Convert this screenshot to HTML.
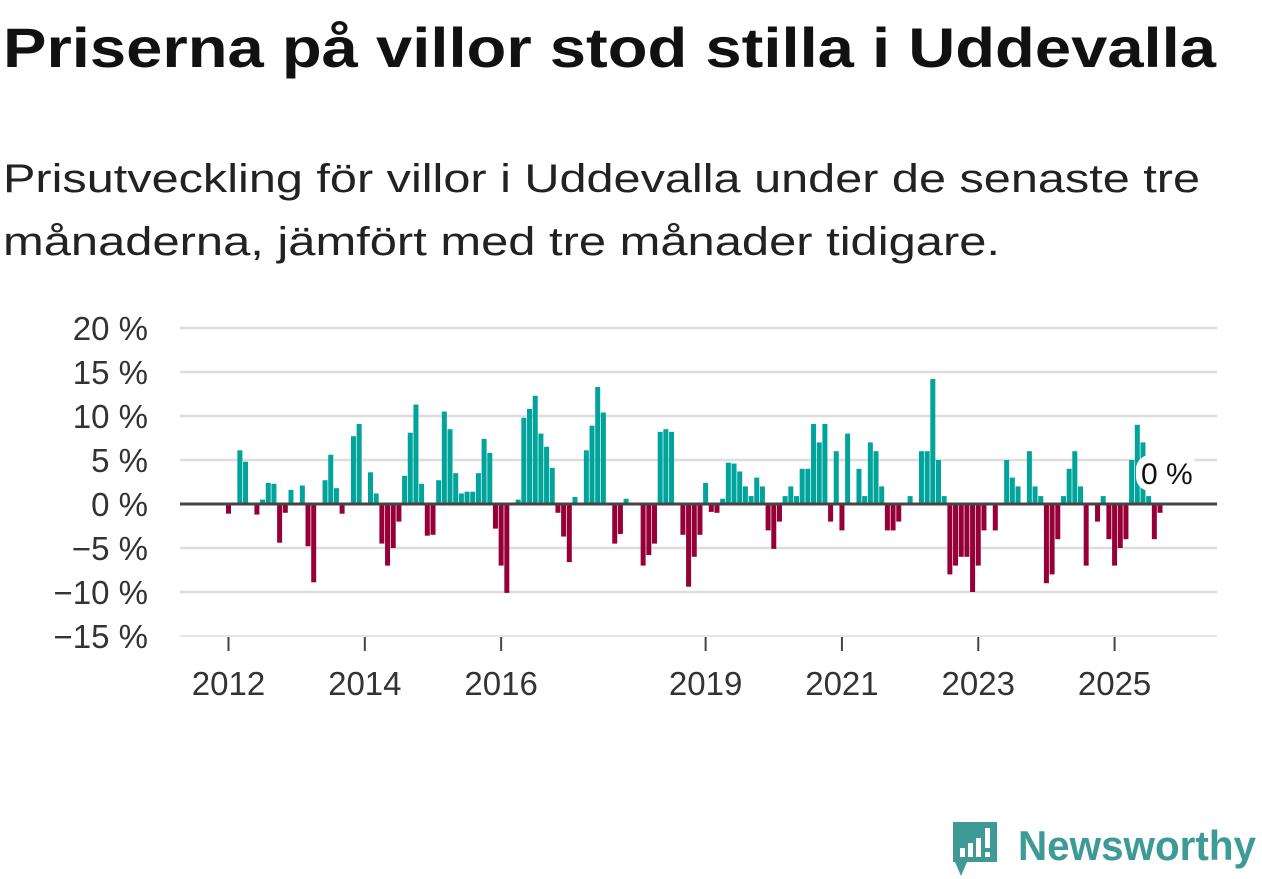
<!DOCTYPE html>
<html><head><meta charset="utf-8"><style>
html,body{margin:0;padding:0;background:#fff;}
svg{display:block;font-family:"Liberation Sans",sans-serif;}
</style></head><body>
<svg id="chart" width="1262" height="879" viewBox="0 0 1262 879" xmlns="http://www.w3.org/2000/svg">
<text x="3" y="67" font-size="56" font-weight="bold" fill="#111" textLength="1213" lengthAdjust="spacingAndGlyphs">Priserna på villor stod stilla i Uddevalla</text>
<text x="3" y="192" font-size="40" fill="#222" textLength="1197" lengthAdjust="spacingAndGlyphs">Prisutveckling för villor i Uddevalla under de senaste tre</text>
<text x="3" y="255" font-size="40" fill="#222" textLength="997" lengthAdjust="spacingAndGlyphs">månaderna, jämfört med tre månader tidigare.</text>
<g id="grid"></g>
<g id="yaxis"></g>
<g id="xaxis"></g>
<g id="bars"></g>
<g id="zero"></g>
<g>
<rect x="1136" y="455" width="62" height="36" rx="14" fill="#fff"/>
<text x="1141" y="484" font-size="30" fill="#111">0 %</text>
</g>
<g>
<path d="M953 822 h44 v40 h-30 l-6 14 l-6 -14 h-2 z" fill="#3d9a96"/>
<rect x="960" y="848" width="5" height="9" fill="#fff"/>
<rect x="968" y="843" width="5" height="14" fill="#fff"/>
<rect x="976" y="838" width="5" height="19" fill="#fff"/>
<rect x="985" y="828" width="5" height="20" fill="#fff"/>
<rect x="985" y="852" width="5" height="5" fill="#fff"/>
<text x="1018" y="860" font-size="42" font-weight="bold" fill="#3d9a96" textLength="238" lengthAdjust="spacingAndGlyphs">Newsworthy</text>
</g>
</svg>
<script>
const startYear = 2012;
const values = [
-1.1,0,6.1,4.8,0,-1.2,0.5,2.4,2.3,-4.4,-1.0,1.6,
0,2.1,-4.8,-8.9,0,2.7,5.6,1.8,-1.1,0,7.7,9.1,
0,3.6,1.2,-4.5,-7.0,-5.0,-2.0,3.2,8.1,11.3,2.3,-3.6,
-3.5,2.7,10.5,8.5,3.5,1.2,1.4,1.4,3.5,7.4,5.8,-2.8,
-7.0,-10.1,0,0.5,9.8,10.8,12.3,8.0,6.5,4.1,-1.0,-3.7,
-6.6,0.8,0,6.1,8.9,13.3,10.4,0,-4.5,-3.4,0.6,0,
0,-7.0,-5.8,-4.5,8.2,8.5,8.2,0,-3.5,-9.4,-6.0,-3.5,
2.4,-0.9,-1.0,0.6,4.7,4.6,3.7,2.0,0.9,3.0,2.0,-3.0,
-5.1,-2.0,0.9,2.0,0.9,4.0,4.0,9.1,7.0,9.1,-2.0,6.0,
-3.0,8.0,0,4.0,0.9,7.0,6.0,2.0,-3.0,-3.0,-2.0,0,
0.9,0,6.0,6.0,14.2,5.0,0.9,-8.0,-7.0,-6.0,-6.0,-10.0,
-7.0,-3.0,0,-3.0,0,5.0,3.0,2.0,0,6.0,2.0,0.9,
-9.0,-8.0,-4.0,0.9,4.0,6.0,2.0,-7.0,0,-2.0,0.9,-4.0,
-7.0,-5.0,-4.0,5.0,9.0,7.0,0.9,-4.0,-1.0,0
];
const yTicks = [20,15,10,5,0,-5,-10,-15];
const xTickYears = [2012,2014,2016,2019,2021,2023,2025];

const NS="http://www.w3.org/2000/svg";
const x0=228.5, monthW=5.68;
function xScale(i){return x0+i*monthW;}
function yScale(v){return 504-v*8.8;}
function mk(tag,attrs,parent){const e=document.createElementNS(NS,tag);for(const k in attrs)e.setAttribute(k,attrs[k]);parent.appendChild(e);return e;}

const grid=document.getElementById('grid'), yaxis=document.getElementById('yaxis');
yTicks.forEach(t=>{
  if(t!==0){
    const l=mk('line',{x1:180,x2:1217,y1:yScale(t),y2:yScale(t),stroke:'#dddddd','stroke-width':t===-15?1.5:2.5},grid);
    
    
  }
  const tx=mk('text',{x:148,y:yScale(t)+12,'text-anchor':'end','font-size':33,fill:'#333'},yaxis);
  tx.textContent=(t<0?'\u2212'+(-t):t)+' %';
  
  
});

const xaxis=document.getElementById('xaxis');
xTickYears.forEach(yr=>{
  const x=xScale((yr-startYear)*12);
  const tk=mk('line',{x1:x,x2:x,y1:637,y2:651,stroke:'#444','stroke-width':2},xaxis);
  
  
  const tx=mk('text',{x:x,y:695,'text-anchor':'middle','font-size':33,fill:'#333'},xaxis);
  tx.textContent=yr;
  
  
});

const bars=document.getElementById('bars');
values.forEach((v,i)=>{
  if(v===0)return;
  const x=xScale(i)-2.5;
  const y=v>0?yScale(v):yScale(0);
  const h=Math.abs(yScale(v)-yScale(0));
  const r=mk('rect',{x:x,y:y,width:5,height:h,fill:v>0?'#00a49a':'#970037'},bars);
  
  
});

const zl=mk('line',{x1:180,x2:1217,y1:yScale(0),y2:yScale(0),stroke:'#444','stroke-width':3},document.getElementById('zero'));


</script>
</body></html>
